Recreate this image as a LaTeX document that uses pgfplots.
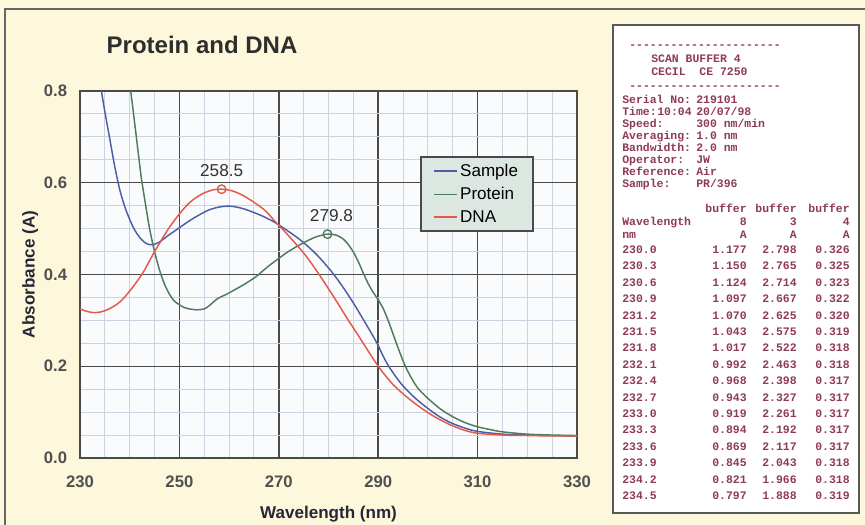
\documentclass[border=0pt]{standalone}
\usepackage{pgfplots}
\pgfplotsset{compat=1.18}
\usepackage{fontspec}
\setmainfont{Liberation Sans}
\newfontfamily\mono{Liberation Mono}
\definecolor{pagebg}{HTML}{FDF8DC}
\definecolor{plotbg}{HTML}{FAFBFD}
\definecolor{majgrid}{HTML}{4A4A4A}
\definecolor{mingrid}{HTML}{CED1E0}
\definecolor{cblue}{HTML}{4B5FA6}
\definecolor{cgreen}{HTML}{4E7B5C}
\definecolor{cred}{HTML}{E25A47}
\definecolor{legbg}{HTML}{DCE7E1}
\definecolor{ticklab}{HTML}{505050}
\definecolor{labcol}{HTML}{262638}
\definecolor{prt}{HTML}{8E3A58}
\begin{document}
\begin{tikzpicture}
\begin{scope}[x=0.75pt,y=0.75pt]
\fill[pagebg] (0,0) rectangle (865,525);
\draw[gray!80!black, line width=1.1pt] (5,0) -- (5,516) -- (865,516);
\fill[white] (613,12) rectangle (859,500);
\draw[gray!70!black, line width=1.4pt] (613,12) rectangle (859,500);
\begin{scope}[every node/.style={inner sep=0pt, text=prt, font=\mono\bfseries\fontsize{8.6}{9}\selectfont}]
\node[anchor=base west] at (629,476) {----------------------};
\node[anchor=base west] at (651,462) {SCAN BUFFER 4};
\node[anchor=base west] at (651,449) {CECIL\ \ CE 7250};
\node[anchor=base west] at (629,435) {----------------------};
\node[anchor=base west] at (622,421) {Serial No:};   \node[anchor=base west] at (696,421) {219101};
\node[anchor=base west] at (622,409) {Time:};        \node[anchor=base west] at (657,409) {10:04};
                                                     \node[anchor=base west] at (696,409) {20/07/98};
\node[anchor=base west] at (622,397) {Speed:};       \node[anchor=base west] at (696,397) {300 nm/min};
\node[anchor=base west] at (622,385) {Averaging:};   \node[anchor=base west] at (696,385) {1.0 nm};
\node[anchor=base west] at (622,373) {Bandwidth:};   \node[anchor=base west] at (696,373) {2.0 nm};
\node[anchor=base west] at (622,361) {Operator:};    \node[anchor=base west] at (696,361) {JW};
\node[anchor=base west] at (622,349) {Reference:};   \node[anchor=base west] at (696,349) {Air};
\node[anchor=base west] at (622,337) {Sample:};      \node[anchor=base west] at (696,337) {PR/396};
\node[anchor=base east] at (747,312) {buffer}; \node[anchor=base east] at (797,312) {buffer}; \node[anchor=base east] at (850,312) {buffer};
\node[anchor=base west] at (622,299) {Wavelength};
\node[anchor=base east] at (747,299) {8}; \node[anchor=base east] at (797,299) {3}; \node[anchor=base east] at (850,299) {4};
\node[anchor=base west] at (622,286) {nm};
\node[anchor=base east] at (747,286) {A}; \node[anchor=base east] at (797,286) {A}; \node[anchor=base east] at (850,286) {A};
\foreach \w/\a/\b/\c [count=\i from 0] in {230.0/1.177/2.798/0.326, 230.3/1.150/2.765/0.325, 230.6/1.124/2.714/0.323, 230.9/1.097/2.667/0.322, 231.2/1.070/2.625/0.320, 231.5/1.043/2.575/0.319, 231.8/1.017/2.522/0.318, 232.1/0.992/2.463/0.318, 232.4/0.968/2.398/0.317, 232.7/0.943/2.327/0.317, 233.0/0.919/2.261/0.317, 233.3/0.894/2.192/0.317, 233.6/0.869/2.117/0.317, 233.9/0.845/2.043/0.318, 234.2/0.821/1.966/0.318, 234.5/0.797/1.888/0.319}{
  \pgfmathsetmacro\yy{271.5-16.4*\i}
  \node[anchor=base west] at (622,\yy) {\w};
  \node[anchor=base east] at (747,\yy) {\a};
  \node[anchor=base east] at (797,\yy) {\b};
  \node[anchor=base east] at (850,\yy) {\c};
}
\end{scope}
\end{scope}
\begin{axis}[
  at={(60pt,50.25pt)}, anchor=south west, scale only axis,
  width=372.75pt, height=275.25pt,
  xmin=230, xmax=330, ymin=0, ymax=0.8,
  xtick={230,250,270,290,310,330}, ytick={0,0.2,0.4,0.6,0.8},
  minor x tick num=3, minor y tick num=3,
  grid=both,
  major grid style={draw=majgrid, line width=1.1pt},
  minor grid style={draw=mingrid, line width=0.75pt},
  axis line style={draw=majgrid, line width=1.1pt},
  major tick length=0pt, minor tick length=0pt,
  axis background/.style={fill=plotbg},
  /pgf/number format/assume math mode=true,
  xticklabel style={font=\bfseries\fontsize{12.5}{14}\selectfont, text=ticklab, anchor=base, yshift=-22.5pt, inner sep=0pt},
  yticklabel style={font=\bfseries\fontsize{12.5}{14}\selectfont, text=ticklab, anchor=east, xshift=-9.5pt, inner sep=0pt,
     /pgf/number format/.cd, fixed, fixed zerofill, precision=1},
  xlabel={Wavelength (nm)}, ylabel={Absorbance (A)},
  xlabel style={at={(axis description cs:0.5,-0.166)}, anchor=base, font=\bfseries\fontsize{12.8}{14}\selectfont, text=labcol},
  ylabel style={at={(axis description cs:-0.1,0.5)}, anchor=center, font=\bfseries\fontsize{12.8}{14}\selectfont, text=labcol},
  title={Protein and DNA},
  title style={at={(axis description cs:0.2455,1.0804)}, anchor=base, font=\bfseries\fontsize{18}{20}\selectfont, text=black!82},
  legend style={at={(0.686,0.820)}, anchor=north west, fill=legbg, draw=none, name=leg,
     font=\fontsize{12.8}{14}\selectfont, row sep=2.6pt, inner xsep=9pt, inner ysep=3pt},
  legend cell align=left,
  legend image code/.code={\draw[#1, line width=1.2pt] (0pt,0pt) -- (17pt,0pt);},
  every axis plot/.append style={line width=1.1pt},
]
\addplot[draw=cblue, smooth] coordinates {
(233.6,0.84) (234.3,0.80) (235,0.755) (236,0.695) (237,0.635) (238,0.585) (239,0.548) (240,0.52)
(241,0.497) (242,0.481) (243,0.47) (244,0.465) (245,0.466) (246,0.471) (247,0.479) (248,0.487)
(250,0.502) (252,0.517) (254,0.53) (256,0.541) (258,0.547) (259.5,0.549) (261,0.548) (263,0.543)
(265,0.535) (267,0.526) (269.3,0.513) (271,0.501) (273,0.486) (274.6,0.473) (277,0.45) (279,0.427)
(281,0.401) (283,0.371) (285,0.338) (287,0.302) (289,0.265) (290,0.245) (291,0.222) (292,0.202)
(293.5,0.178) (295,0.157) (297.5,0.13) (300,0.108) (302.5,0.089) (305,0.075) (307.5,0.065)
(310,0.058) (315,0.052) (320,0.05) (325,0.049) (330,0.048)};
\addlegendentry{Sample}
\addplot[draw=cgreen, smooth] coordinates {
(239.6,0.84) (240.2,0.80) (241,0.73) (242,0.64) (242.4,0.606) (243,0.565) (244,0.5) (245,0.45)
(246,0.41) (247,0.379) (248,0.357) (249,0.342) (250,0.334) (251,0.328) (252,0.325) (253.5,0.323)
(255,0.325) (256,0.332) (257.5,0.346) (258.5,0.352) (259.5,0.357) (261,0.366) (262.5,0.375)
(264,0.385) (265.5,0.396) (267,0.41) (268.5,0.423) (270,0.435) (271.5,0.447) (273.6,0.461)
(275.5,0.472) (277.5,0.482) (279.8,0.488) (281.5,0.486) (283,0.477) (284,0.465) (285,0.449)
(286,0.428) (287,0.403) (288,0.38) (289,0.361) (290,0.345) (291,0.326) (292,0.3) (293,0.27)
(294,0.24) (295.3,0.204) (296.5,0.178) (298,0.152) (300,0.13) (302.5,0.107) (305,0.09)
(307.5,0.077) (310,0.068) (312.5,0.062) (315,0.057) (320,0.052) (325,0.05) (330,0.049)};
\addlegendentry{Protein}
\addplot[draw=cred, smooth] coordinates {
(230,0.325) (231,0.321) (232,0.318) (233,0.317) (234,0.318) (235,0.321) (236,0.326) (237,0.332)
(238,0.34) (239,0.351) (240,0.364) (241,0.378) (242,0.393) (243,0.41) (244,0.43) (245,0.45)
(246,0.468) (247,0.486) (248,0.503) (249,0.518) (250,0.532) (251,0.545) (252,0.556) (253,0.565)
(254,0.572) (255,0.578) (256,0.582) (257,0.585) (258.5,0.586) (260,0.584) (261.5,0.579)
(263,0.571) (264.5,0.561) (266,0.55) (267.5,0.537) (269.3,0.515) (271,0.496) (273,0.472)
(275.5,0.44) (278,0.402) (280,0.369) (282,0.335) (284,0.3) (286,0.267) (288,0.233) (290,0.2)
(291.5,0.179) (293,0.16) (295,0.14) (297.5,0.118) (300,0.099) (302.5,0.083) (305,0.07)
(307.5,0.06) (310,0.054) (315,0.05) (320,0.049) (325,0.048) (330,0.048)};
\addlegendentry{DNA}
\addplot[only marks, mark=o, mark size=3.2pt, mark options={draw=cred, fill=white!80!cred, line width=1pt},
  point meta=explicit symbolic, nodes near coords,
  every node near coord/.append style={anchor=base, yshift=9.5pt, inner sep=0pt, font=\fontsize{12.9}{14}\selectfont, text=black!80},
  forget plot] coordinates {(258.5,0.586) [258.5]};
\addplot[only marks, mark=o, mark size=3.2pt, mark options={draw=cgreen, fill=white!80!cgreen, line width=1pt},
  point meta=explicit symbolic, nodes near coords,
  every node near coord/.append style={anchor=base, yshift=9.5pt, xshift=3pt, inner sep=0pt, font=\fontsize{12.9}{14}\selectfont, text=black!80},
  forget plot] coordinates {(279.8,0.488) [279.8]};
\end{axis}
\draw[majgrid, line width=1pt] (leg.south west) rectangle (leg.north east);
\pgfresetboundingbox
\useasboundingbox (0,0) rectangle (648.75pt,393.75pt);
\end{tikzpicture}
\end{document}
